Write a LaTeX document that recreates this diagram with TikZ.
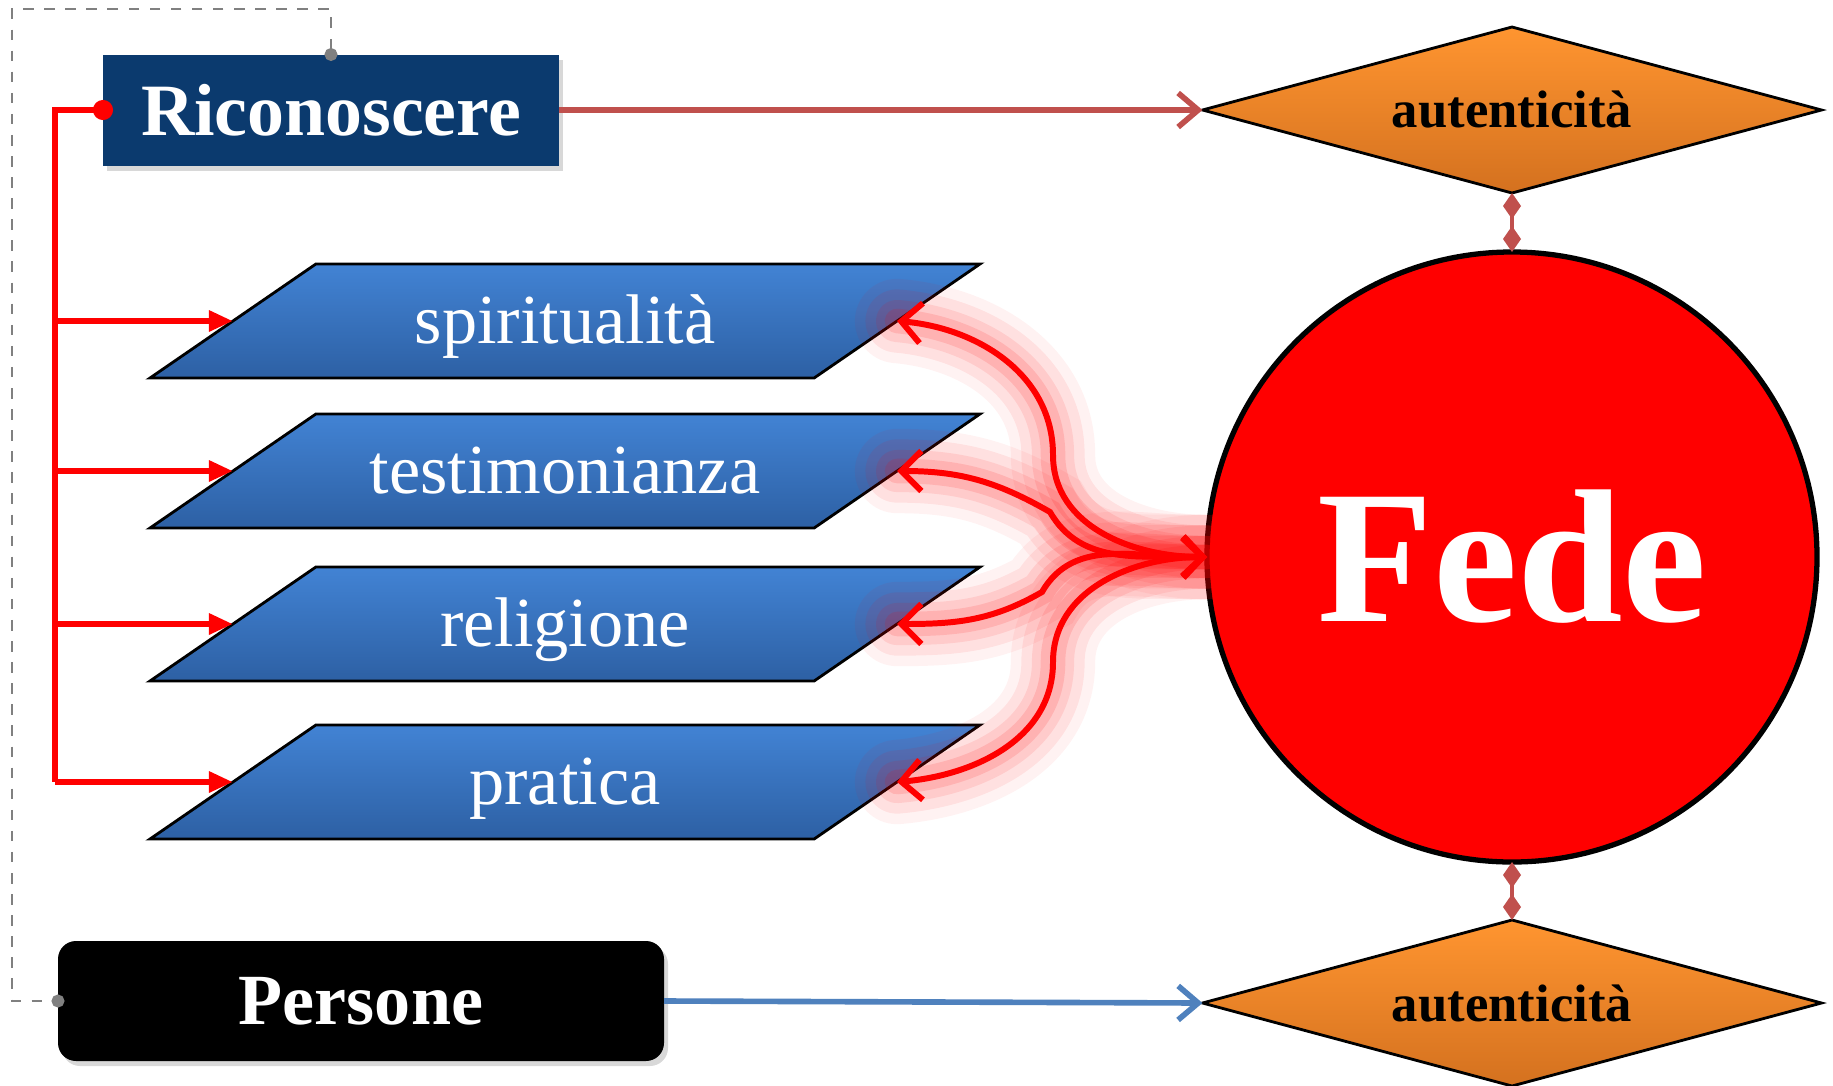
\documentclass[tikz,border=0pt]{standalone}
\usepackage{fontspec}
\setmainfont{Liberation Serif}
\usepackage[svgnames]{xcolor}
\usetikzlibrary{
  shapes.geometric,
  arrows.meta,
  shadows}

\definecolor{ricblue}{HTML}{0B3A6E}
\definecolor{plantop}{HTML}{4283D4}
\definecolor{planbot}{HTML}{2D60A4}
\definecolor{linkred}{HTML}{C0504D}
\definecolor{linkblue}{HTML}{4F81BD}
\definecolor{gemtop}{HTML}{FF9530}
\definecolor{gembot}{HTML}{D4711F}

\tikzset{
  headbox/.style={rectangle, inner sep=0, outer sep=0, text=white,
    font=\fontsize{21}{25}\selectfont\bfseries,
    drop shadow={opacity=0.3, shadow xshift=0.04cm, shadow yshift=-0.05cm}},
  plane/.style={trapezium, trapezium left angle=34.5, trapezium right angle=145.5,
    trapezium stretches body, minimum width=8.3cm,
    text height=0.79cm, text depth=0.35cm,
    inner sep=0, outer sep=0, draw=black, line width=0.8pt,
    top color=plantop, bottom color=planbot, text=white,
    font=\fontsize{20}{24}\selectfont},
  gem/.style={diamond, aspect=3.7, minimum width=6.19cm, minimum height=1.66cm,
    inner sep=0, outer sep=0, draw=black, line width=0.8pt,
    top color=gemtop, bottom color=gembot,
    font=\fontsize{15}{18}\selectfont\bfseries},
  bus/.style={red, line width=1.7pt},
  link/.style={line width=1.6pt, -{Straight Barb[length=0.2cm,width=0.34cm]}},
  stem/.style={linkred, line width=1.4pt,
    {Diamond[length=0.26cm,width=0.18cm]}-{Diamond[length=0.26cm,width=0.18cm]}},
  glow/.style={red, line width=1.7pt,
    {Straight Barb[length=0.2cm,width=0.4cm]}-{Straight Barb[length=0.2cm,width=0.4cm]},
    preaction={draw, -, red, line cap=round, opacity=0.05, line width=24pt},
    preaction={draw, -, red, line cap=round, opacity=0.07, line width=18pt},
    preaction={draw, -, red, line cap=round, opacity=0.09, line width=12pt},
    preaction={draw, -, red, line cap=round, opacity=0.12, line width=7pt}},
  dashline/.style={gray, dashed, line width=0.6pt,
    {Circle[length=0.13cm]}-{Circle[length=0.13cm]},
    shorten <=-0.065cm, shorten >=-0.065cm}
}

\begin{document}
\begin{tikzpicture}
\useasboundingbox[fill=white] (0,0) rectangle (18.33,-10.85);

\node[headbox, fill=ricblue, minimum width=4.56cm, minimum height=1.11cm] (ric) at (3.31,-1.10) {Riconoscere};
\node[headbox, fill=black, rounded corners=0.18cm, minimum width=6.06cm, minimum height=1.20cm,
  font=\fontsize{20.5}{25}\selectfont\bfseries] (per) at (3.61,-10.01) {Persone};

\node[plane] (spi) at (5.65,-3.21) {spiritualità};
\node[plane] (tes) at (5.65,-4.71) {testimonianza};
\node[plane] (rel) at (5.65,-6.24) {religione};
\node[plane] (pra) at (5.65,-7.82) {pratica};

\node[circle, minimum size=6.1cm, inner sep=0, outer sep=0, fill=red, draw=black, line width=1.5pt,
  text=white, font=\fontsize{54}{60}\selectfont\bfseries] (fede) at (15.12,-5.57) {Fede};

\node[gem] (aut1) at (15.12,-1.10) {autenticità};
\node[gem] (aut2) at (15.12,-10.03) {autenticità};

\coordinate (bus) at (0.55,0);
\coordinate (dtop) at (0.12,-0.09);

\draw[dashline] (ric.north) |- (dtop) |- (per.west);

\draw[bus, {Circle[length=0.2cm]}-, shorten <=-0.1cm] (ric.west) -- (ric.west -| bus) -- (bus |- pra.west);
\foreach \p in {spi,tes,rel,pra}
  \draw[bus, -{Triangle[length=0.24cm,width=0.2cm]}] (bus |- \p.west) -- (\p.west);

\draw[link, linkred] (ric.east) -- (aut1.west);
\draw[link, linkblue] (per.east) -- (aut2.west);

\draw[stem] (aut1.south) -- (fede.north);
\draw[stem] (fede.south) -- (aut2.north);

\draw[glow] (spi.east) to[out=-5,in=90] (10.53,-4.55) to[out=-90,in=180] (fede.west);
\draw[glow] (tes.east) to[out=0,in=150] (10.5,-5.12) to[out=-60,in=178] (fede.west);
\draw[glow] (rel.east) to[out=0,in=-150] (10.42,-5.92) to[out=60,in=182] (fede.west);
\draw[glow] (pra.east) to[out=5,in=-90] (10.53,-6.62) to[out=90,in=180] (fede.west);
\end{tikzpicture}
\end{document}
